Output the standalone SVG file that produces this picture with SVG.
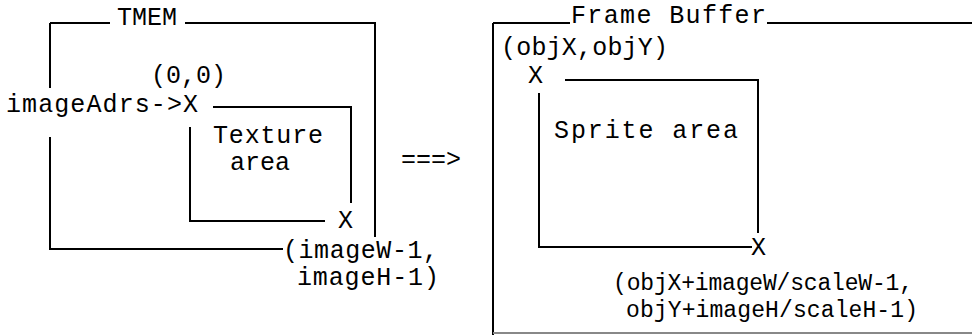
<svg xmlns="http://www.w3.org/2000/svg" width="972" height="335" viewBox="0 0 972 335">
<style>
.t{font-family:"Liberation Mono","Courier New",monospace;font-size:25px;fill:#000}
.s{font-size:23px}
.l{fill:none;stroke:#000;stroke-width:2}
</style>
<rect width="972" height="335" fill="#fff"/>
<g id="tmem">
<path class="l" d="M50,23 H110 M185,23 H375 V237 M50,23 V88 M50,137 V249 H283"/>
<text class="t" x="117" y="25">TMEM</text>
<text class="t" x="151" y="83">(0,0)</text>
<text class="t" x="6" y="112" textLength="192">imageAdrs-&gt;X</text>
<text class="t" x="283" y="258" textLength="155">(imageW-1,</text>
<text class="t" x="297" y="285" textLength="142">imageH-1)</text>
</g>
<g id="texture">
<path class="l" d="M213,107 H351 V203 M190,127 V221 H325"/>
<text class="t" x="213" y="143" textLength="110">Texture</text>
<text class="t" x="230" y="170">area</text>
<text class="t" x="338" y="228">X</text>
</g>
<g id="connectors">
<text class="t" x="401" y="167">===&gt;</text>
</g>
<g id="framebuffer">
<path class="l" d="M493,23 H570 M767,23 H972 M493,23 V335"/>
<path d="M493,333 H972" fill="none" stroke="#888" stroke-width="2"/>
<text class="t" x="571" y="23" textLength="195">Frame Buffer</text>
<text class="t" x="501" y="55" textLength="167">(objX,objY)</text>
<text class="t" x="528" y="83">X</text>
</g>
<g id="sprite">
<path class="l" d="M565,80 H758 V233 M539,93 V247 H752"/>
<text class="t" x="554" y="138" textLength="184">Sprite area</text>
<text class="t" x="751" y="255">X</text>
<text class="t s" x="613" y="290" textLength="300">(objX+imageW/scaleW-1,</text>
<text class="t s" x="626" y="317" textLength="292">objY+imageH/scaleH-1)</text>
</g>
</svg>
